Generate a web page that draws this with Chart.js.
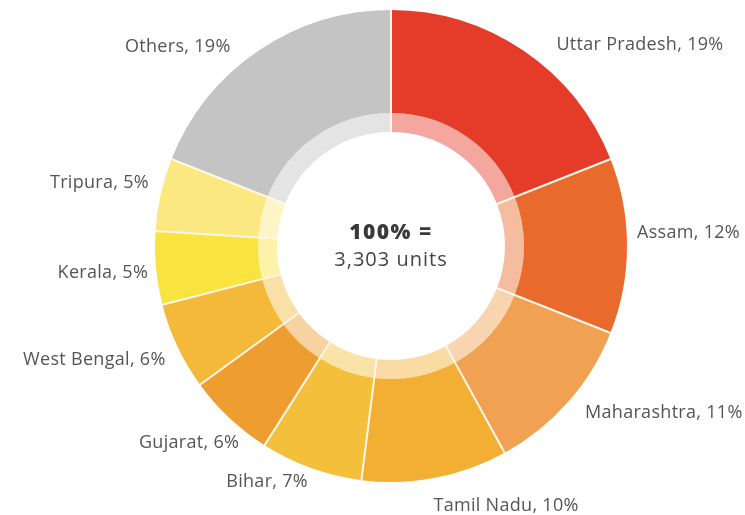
<!DOCTYPE html>
<html>
<head>
<meta charset="utf-8">
<script src="https://cdn.jsdelivr.net/npm/chart.js@4/dist/chart.umd.min.js"></script>
<style>
  html, body { margin: 0; padding: 0; background: #fff; }
  #wrap { width: 745px; height: 515px; position: relative; }
</style>
</head>
<body>
<div id="wrap"><canvas id="chart"></canvas></div>
<script>
// Share of units by state
const states = ['Uttar Pradesh', 'Assam', 'Maharashtra', 'Tamil Nadu', 'Bihar',
                'Gujarat', 'West Bengal', 'Kerala', 'Tripura', 'Others'];
const shares = [19, 12, 11, 10, 7, 6, 6, 5, 5, 19];
const totalUnits = '3,303';

const sliceColors = ['#E53C29', '#E86A2C', '#F0A152', '#F2AF34', '#F4C03B',
                     '#EE9E30', '#F4B83A', '#F8E33F', '#FCE880', '#C4C4C4'];

// pale version of each colour for the thin inner ring
function pale(hex, a) {
  const n = parseInt(hex.slice(1), 16);
  const r = n >> 16, g = (n >> 8) & 255, b = n & 255;
  return `rgba(${r},${g},${b},${a})`;
}

// label nudges [dx, dy] from the default spot just outside each slice
const labelNudge = [[26, 4], [-2, -13], [8, 3], [-4, 16], [1, 3],
                    [18, 16], [-1, 8], [4, 4], [0, -9], [-21, 6]];

const FONT = '"Open Sans", "DejaVu Sans", sans-serif';

const decorations = {
  id: 'decorations',
  afterDatasetsDraw(chart) {
    const ctx = chart.ctx;
    const outer = chart.getDatasetMeta(0).data;
    const inner = chart.getDatasetMeta(1).data;
    if (!outer.length) return;
    const cx = outer[0].x, cy = outer[0].y;
    const rOut = outer[0].outerRadius;
    const rIn = inner[0].innerRadius;

    // thin cream separators between slices, across both rings
    ctx.save();
    ctx.strokeStyle = '#FFF8E8';
    ctx.lineWidth = 2;
    outer.forEach((arc) => {
      const a = arc.startAngle;
      ctx.beginPath();
      ctx.moveTo(cx + Math.cos(a) * rIn, cy + Math.sin(a) * rIn);
      ctx.lineTo(cx + Math.cos(a) * (rOut + 1), cy + Math.sin(a) * (rOut + 1));
      ctx.stroke();
    });
    ctx.restore();

    // slice labels
    ctx.save();
    ctx.font = '400 18px ' + FONT;
    ctx.letterSpacing = '0.3px';
    ctx.fillStyle = '#555555';
    ctx.textBaseline = 'middle';
    outer.forEach((arc, i) => {
      const mid = (arc.startAngle + arc.endAngle) / 2;
      const r = rOut + 12;
      const x = cx + Math.cos(mid) * r + labelNudge[i][0];
      const y = cy + Math.sin(mid) * r + labelNudge[i][1];
      ctx.textAlign = Math.cos(mid) >= 0 ? 'left' : 'right';
      ctx.fillText(states[i] + ', ' + shares[i] + '%', x, y);
    });

    // centre total
    ctx.textAlign = 'center';
    ctx.fillStyle = '#3a3a3a';
    ctx.font = '800 21px ' + FONT;
    ctx.letterSpacing = '1.5px';
    ctx.fillText('100% =', cx, cy - 13);
    ctx.fillStyle = '#444';
    ctx.font = '400 20px ' + FONT;
    ctx.letterSpacing = '1px';
    ctx.fillText(totalUnits + ' units', cx, cy + 14);
    ctx.restore();
  }
};

new Chart(document.getElementById('chart'), {
  type: 'doughnut',
  data: {
    labels: states,
    datasets: [
      {
        data: shares,
        backgroundColor: sliceColors,
        borderWidth: 0,
        weight: 103
      },
      {
        data: shares,
        backgroundColor: sliceColors.map(c => pale(c, 0.45)),
        borderWidth: 0,
        weight: 19
      }
    ]
  },
  options: {
    responsive: true,
    maintainAspectRatio: false,
    animation: false,
    cutout: '48.3%',
    layout: { padding: { left: 155, right: 118, top: 10, bottom: 33 } },
    plugins: {
      legend: { display: false },
      tooltip: { enabled: false }
    }
  },
  plugins: [decorations]
});
</script>
</body>
</html>
